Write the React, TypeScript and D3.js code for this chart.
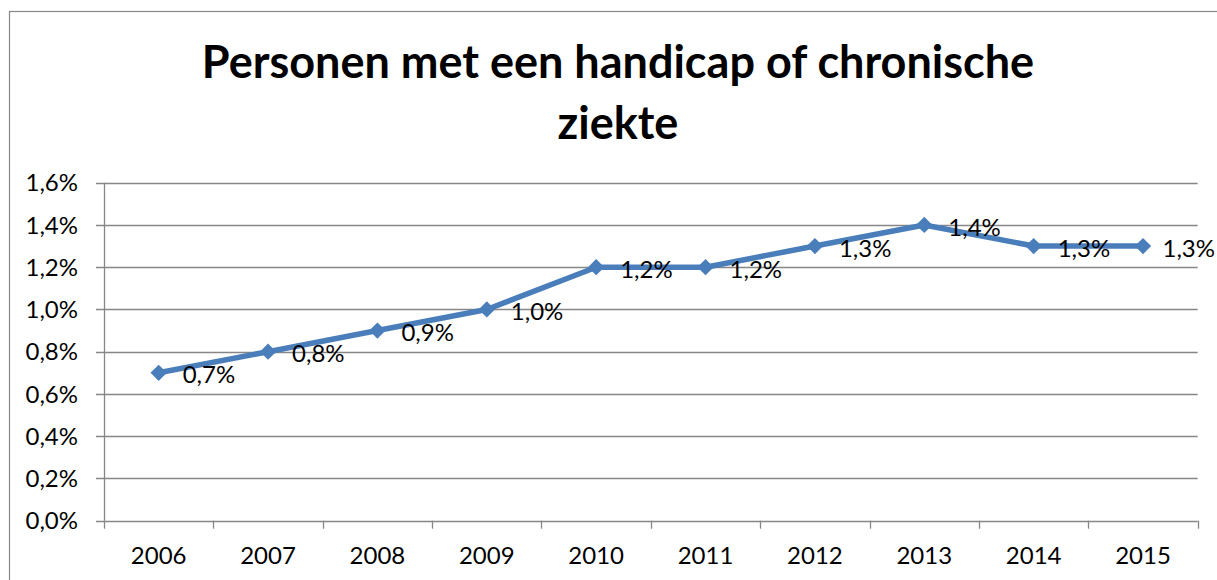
import React, { useEffect, useRef } from 'react';
import * as d3 from 'd3';

const years = ['2006', '2007', '2008', '2009', '2010', '2011', '2012', '2013', '2014', '2015'];
const values = [0.7, 0.8, 0.9, 1.0, 1.2, 1.2, 1.3, 1.4, 1.3, 1.3];
const yTicks = [0, 0.2, 0.4, 0.6, 0.8, 1.0, 1.2, 1.4, 1.6];
const titleLines = ['Personen met een handicap of chronische', 'ziekte'];

const fmt = (v: number) => v.toFixed(1).replace('.', ',') + '%';

const App = () => {
  const ref = useRef<SVGSVGElement | null>(null);

  useEffect(() => {
    if (!ref.current) return;
    const svg = d3.select(ref.current);
    svg.selectAll('*').remove();

    const W = 1217;
    const font = 'Lato, "Open Sans", sans-serif';
    const grey = '#878787';
    const blue = '#4a7ebb';

    // chart frame (runs off the right and bottom edge like the original)
    svg.append('rect')
      .attr('x', 9.5).attr('y', 11.5)
      .attr('width', 1400).attr('height', 700)
      .attr('fill', 'white').attr('stroke', grey).attr('stroke-width', 1.2);

    // title
    svg.append('g').selectAll('text')
      .data(titleLines)
      .enter()
      .append('text')
        .attr('x', 618)
        .attr('y', (d, i) => 78 + i * 61)
        .attr('text-anchor', 'middle')
        .attr('font-family', font)
        .attr('font-weight', 'bold')
        .attr('font-size', 45)
        .text(d => d);

    const left = 104, right = 1197.7, top = 182.7, bottom = 520.7;

    const x = d3.scaleBand().domain(years).range([left, right]);
    const y = d3.scaleLinear().domain([0, 1.6]).range([bottom, top]);

    // gridlines
    svg.append('g').selectAll('line')
      .data(yTicks)
      .enter()
      .append('line')
        .attr('x1', left - 8).attr('x2', right)
        .attr('y1', d => Math.round(y(d)) + 0.5).attr('y2', d => Math.round(y(d)) + 0.5)
        .attr('stroke', grey).attr('stroke-width', 1.3);

    // y axis
    svg.append('line')
      .attr('x1', left + 0.5).attr('x2', left + 0.5)
      .attr('y1', top).attr('y2', bottom)
      .attr('stroke', grey).attr('stroke-width', 1.3);

    svg.append('g').selectAll('text')
      .data(yTicks)
      .enter()
      .append('text')
        .attr('x', 78)
        .attr('y', d => y(d))
        .attr('dy', '0.36em')
        .attr('text-anchor', 'end')
        .attr('font-family', font)
        .attr('font-size', 24)
        .text(d => fmt(d));

    // x ticks at category boundaries
    const bounds = years.map(d => x(d) as number).concat([right]);
    svg.append('g').selectAll('line')
      .data(bounds)
      .enter()
      .append('line')
        .attr('x1', d => Math.round(d) + 0.5).attr('x2', d => Math.round(d) + 0.5)
        .attr('y1', bottom).attr('y2', bottom + 8)
        .attr('stroke', grey).attr('stroke-width', 1.3);

    svg.append('g').selectAll('text')
      .data(years)
      .enter()
      .append('text')
        .attr('x', d => (x(d) as number) + x.bandwidth() / 2)
        .attr('y', 564)
        .attr('text-anchor', 'middle')
        .attr('font-family', font)
        .attr('font-size', 24)
        .text(d => d);

    // line series
    const pts = years.map((d, i) => ({ year: d, v: values[i] }));
    const cx = (d: { year: string }) => (x(d.year) as number) + x.bandwidth() / 2;

    svg.append('path')
      .datum(pts)
      .attr('fill', 'none')
      .attr('stroke', blue)
      .attr('stroke-width', 5.5)
      .attr('stroke-linejoin', 'round')
      .attr('d', d3.line<{ year: string; v: number }>().x(cx).y(d => y(d.v)));

    svg.append('g').selectAll('path')
      .data(pts)
      .enter()
      .append('path')
        .attr('transform', d => `translate(${cx(d)},${y(d.v)})`)
        .attr('d', d3.symbol(d3.symbolDiamond2, 170)())
        .attr('fill', blue);

    // data labels, right of each point (kept inside the picture)
    svg.append('g').selectAll('text')
      .data(pts)
      .enter()
      .append('text')
        .attr('x', d => cx(d) + 24)
        .attr('y', d => y(d.v) + 2)
        .attr('dy', '0.36em')
        .attr('font-family', font)
        .attr('font-size', 24)
        .text(d => fmt(d.v))
        .each(function (this: SVGTextElement, d) {
          const w = this.getComputedTextLength();
          const x0 = cx(d) + 24;
          if (x0 + w > W - 2) d3.select(this).attr('x', W - 2 - w);
        });
  }, []);

  return (
    <svg ref={ref} width={1217} height={580}
      style={{ position: 'absolute', left: 0, top: 0, background: 'white' }} />
  );
};

export default App;
